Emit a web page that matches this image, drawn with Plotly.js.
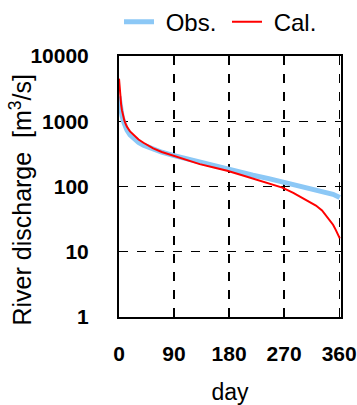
<!DOCTYPE html>
<html>
<head>
<meta charset="utf-8">
<script src="https://cdn.plot.ly/plotly-3.0.1.min.js"></script>
<style>html,body{margin:0;padding:0;background:#fff;}</style>
</head>
<body>
<div id="chart" style="width:357px;height:405px;"></div>
<script>
// Observed flow duration curve (day rank, discharge m3/s)
var obsDays = [0, 1.5, 3, 5, 7.5, 10, 13, 18, 24, 32, 40, 56, 70, 87, 110, 132, 155, 177, 200, 219, 245, 267, 290, 306, 325, 338, 350, 361];
var obsQ    = [2400, 1800, 1480, 1200, 980, 840, 730, 620, 545, 475, 430, 372, 335, 302, 265, 235, 207, 183, 163, 149, 132, 118, 107, 99, 90, 83, 76, 68];
// Calculated flow duration curve
var calDays = [0, 1, 2, 3.5, 4.8, 6.5, 8.6, 11, 13, 18, 24, 32, 40, 56, 70, 87, 110, 132, 155, 177, 200, 219, 245, 267, 285, 300, 312, 322, 332, 340, 346, 350, 354, 357, 359, 361];
var calQ    = [4500, 3200, 2350, 1800, 1480, 1220, 1040, 900, 820, 700, 612, 525, 468, 383, 338, 302, 255, 220, 195, 174, 150, 133, 112, 96, 80, 66, 58, 51, 43, 35, 30, 26, 22, 19.5, 17.5, 16];
var xTicks = [0, 90, 180, 270, 360];
var yTicks = [1, 10, 100, 1000, 10000];
var yTickText = ['1', '10', '100', '1000', '10000'];
var seriesNames = ['\u00a0Obs.', '\u00a0Cal.'];
var yTitle = 'River discharge\u00a0 [m<sup>3</sup>/s]';
var xTitle = 'day';

var FONT = 'Liberation Sans, Arial, sans-serif';

var traces = [
  {x: obsDays, y: obsQ, name: seriesNames[0], type: 'scatter', mode: 'lines',
   line: {color: '#8cc8f6', width: 5}},
  {x: calDays, y: calQ, name: seriesNames[1], type: 'scatter', mode: 'lines',
   line: {color: '#ff0000', width: 2}}
];

var layout = {
  width: 357, height: 405,
  margin: {l: 119, r: 16, t: 56, b: 88, pad: 0, autoexpand: false},
  paper_bgcolor: '#fff', plot_bgcolor: '#fff',
  font: {family: FONT, color: '#000', size: 21},
  showlegend: true,
  legend: {orientation: 'h', x: 0.0, xanchor: 'left', y: 1.13, yanchor: 'middle',
           font: {family: FONT, size: 24, color: '#000'}, itemwidth: 30,
           entrywidth: 63, entrywidthmode: 'pixels',
           bgcolor: 'rgba(0,0,0,0)'},
  xaxis: {
    range: [0, 363], tickmode: 'array', tickvals: xTicks,
    showgrid: true, gridcolor: '#000', gridwidth: 1.3, griddash: 'dash',
    showline: true, linecolor: '#000', linewidth: 2, mirror: true,
    ticks: '', zeroline: false, ticklabelstandoff: 17,
    tickfont: {family: FONT, size: 21, weight: 'bold', color: '#000'},
    title: {text: xTitle, font: {family: FONT, size: 23, color: '#000'}, standoff: 22}
  },
  yaxis: {
    type: 'log', range: [0, 4], tickmode: 'array', tickvals: yTicks, ticktext: yTickText,
    showgrid: true, gridcolor: '#000', gridwidth: 1.3, griddash: 'dash',
    showline: true, linecolor: '#000', linewidth: 2, mirror: true,
    ticks: '', zeroline: false, ticklabelstandoff: 24,
    tickfont: {family: FONT, size: 21, weight: 'bold', color: '#000'}
  },
  annotations: [{
    text: yTitle, textangle: -90, showarrow: false,
    xref: 'paper', yref: 'paper', x: 0, y: 0.5, xanchor: 'center', yanchor: 'middle',
    xshift: -99, yshift: -13,
    font: {family: FONT, size: 25, color: '#000'}
  }]
};

Plotly.newPlot('chart', traces, layout, {displayModeBar: false, staticPlot: true});
</script>
</body>
</html>
